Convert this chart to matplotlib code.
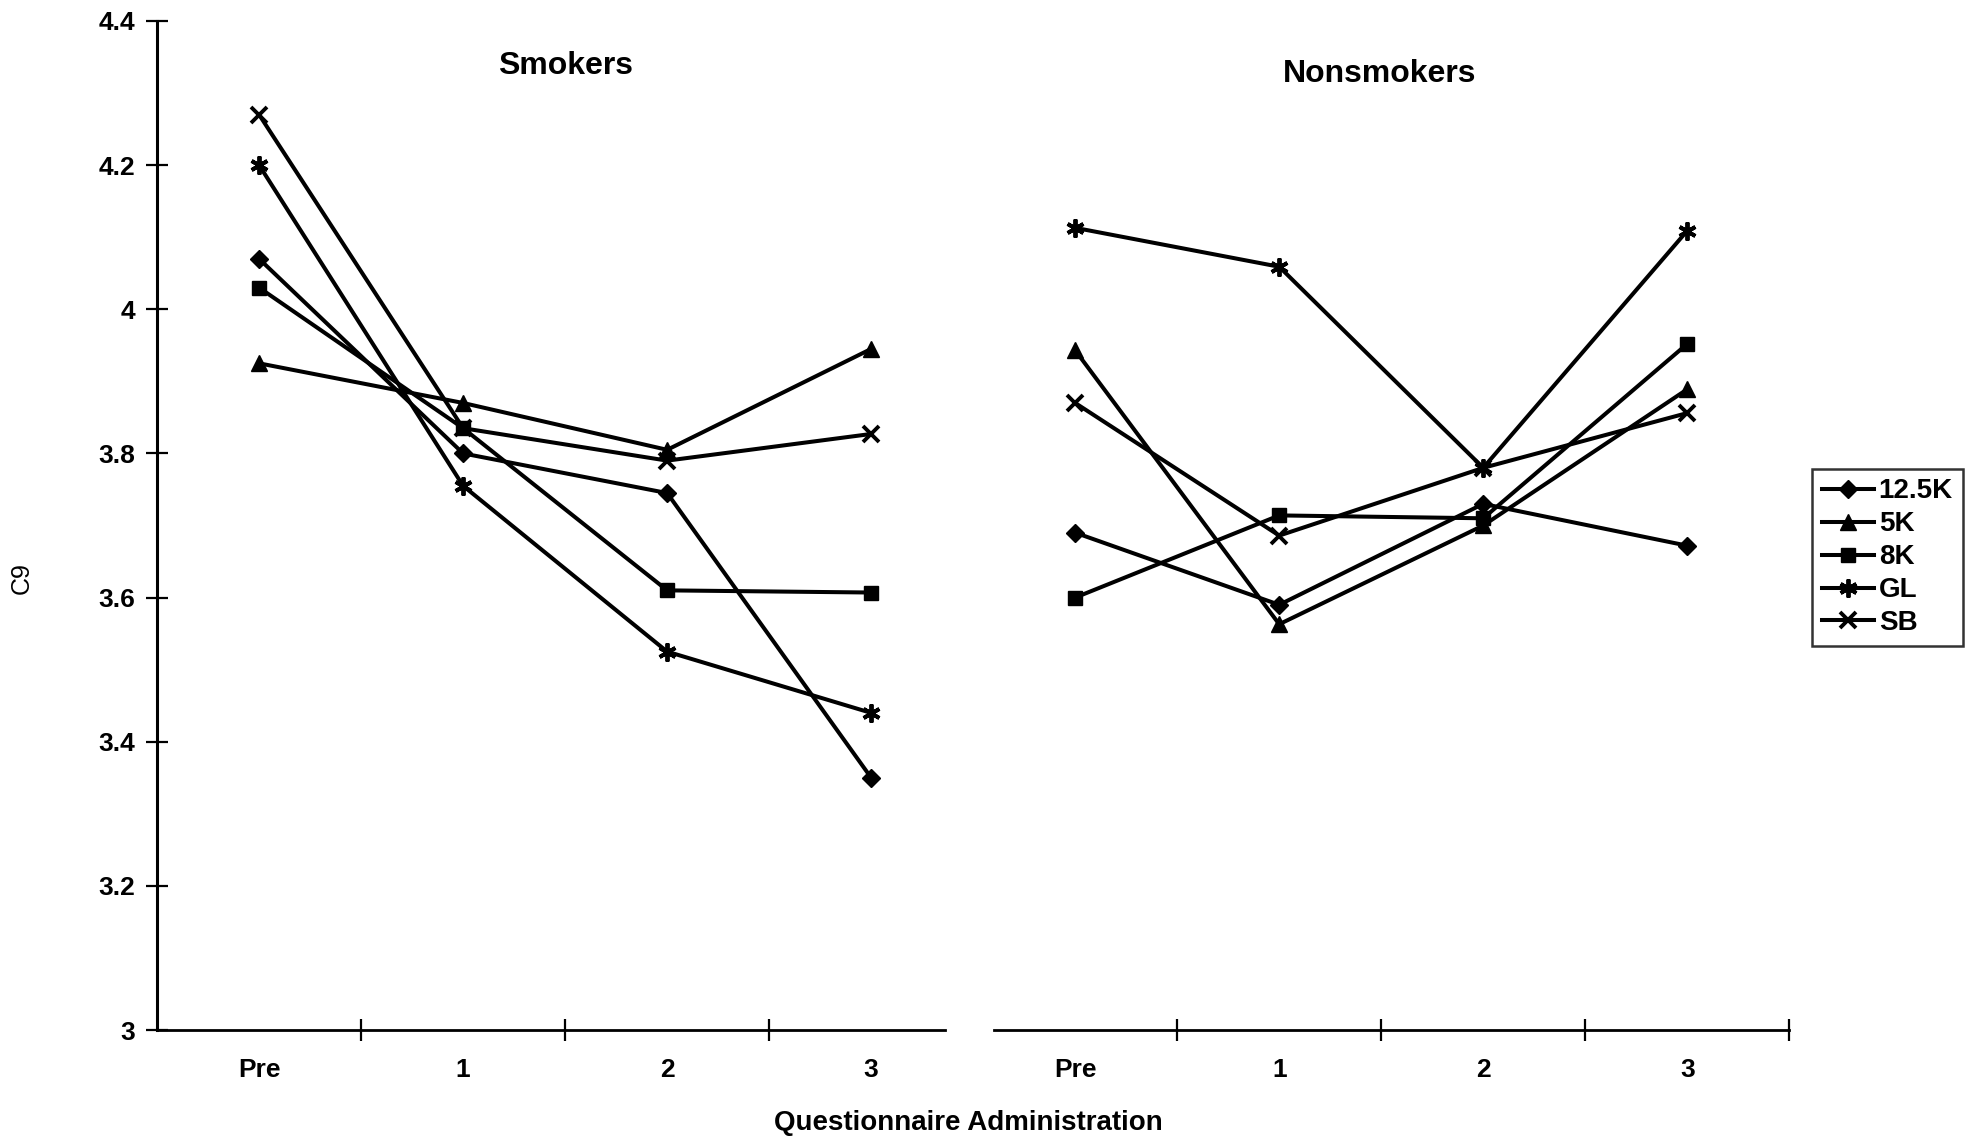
import matplotlib
matplotlib.use("Agg")
import matplotlib.pyplot as plt
from matplotlib.ticker import FixedLocator, FuncFormatter

plt.rcParams['font.family'] = ['Liberation Sans', 'DejaVu Sans']

# Category labels for each group
occasions = ["Pre", "1", "2", "3"]
groups = ["Smokers", "Nonsmokers"]
series_names = ["12.5K", "5K", "8K", "GL", "SB"]

# Mean C9 scores, smokers
smokers_125k = [4.07, 3.80, 3.745, 3.35]
smokers_5k = [3.925, 3.87, 3.805, 3.945]
smokers_8k = [4.03, 3.835, 3.61, 3.607]
smokers_gl = [4.20, 3.755, 3.525, 3.44]
smokers_sb = [4.27, 3.835, 3.79, 3.827]

# Mean C9 scores, nonsmokers
nonsmokers_125k = [3.69, 3.59, 3.73, 3.672]
nonsmokers_5k = [3.943, 3.563, 3.70, 3.889]
nonsmokers_8k = [3.60, 3.714, 3.71, 3.952]
nonsmokers_gl = [4.113, 4.059, 3.78, 4.109]
nonsmokers_sb = [3.87, 3.686, 3.78, 3.856]

yticks = [3.0, 3.2, 3.4, 3.6, 3.8, 4.0, 4.2, 4.4]

smokers = [smokers_125k, smokers_5k, smokers_8k, smokers_gl, smokers_sb]
nonsmokers = [nonsmokers_125k, nonsmokers_5k, nonsmokers_8k, nonsmokers_gl, nonsmokers_sb]

styles = {
    "12.5K": dict(marker="D", ms=9),
    "5K": dict(marker="^", ms=11),
    "8K": dict(marker="s", ms=10),
    "GL": dict(marker=(6, 2, 0), ms=13, mew=2.8),
    "SB": dict(marker="x", ms=11, mew=2.8),
}

fig = plt.figure(figsize=(19.76, 11.46), dpi=100)
ax = fig.add_axes([0.0795, 0.1012, 0.826, 0.8805])

n = len(occasions)
left_x = [i + 0.5 for i in range(n)]
right_x = [n + i + 0.5 for i in range(n)]

handles = []
for name, sv, nv in zip(series_names, smokers, nonsmokers):
    st = styles[name]
    h, = ax.plot(left_x, sv, color="black", lw=2.9, mfc="black", mec="black",
                 clip_on=False, label=name, **st)
    ax.plot(right_x, nv, color="black", lw=2.9, mfc="black", mec="black",
            clip_on=False, **st)
    handles.append(h)

ax.set_xlim(0, 2 * n)
ax.set_ylim(3.0, 4.4)

# Axes frame: only the value axis on the left plus a broken category axis
for s in ["top", "right", "bottom"]:
    ax.spines[s].set_visible(False)
ax.spines["left"].set_linewidth(2.2)
ax.plot([0, 3.86], [3.0, 3.0], color="black", lw=2.0, clip_on=False)
ax.plot([4.1, 2 * n], [3.0, 3.0], color="black", lw=2.0, clip_on=False)

ax.yaxis.set_major_locator(FixedLocator(yticks))
ax.yaxis.set_major_formatter(FuncFormatter(lambda v, p: f"{v:g}"))
ax.tick_params(axis="y", direction="inout", length=16, width=1.6, pad=8,
               labelsize=19)
for lab in ax.get_yticklabels():
    lab.set_fontweight("bold")

ax.xaxis.set_major_locator(FixedLocator([1, 2, 3, 5, 6, 7, 8]))
ax.xaxis.set_minor_locator(FixedLocator(left_x + right_x))
ax.xaxis.set_major_formatter(FuncFormatter(lambda v, p: ""))
ax.set_xticklabels(occasions + occasions, minor=True)
ax.tick_params(axis="x", which="major", direction="inout", length=16, width=1.6)
ax.tick_params(axis="x", which="minor", length=0, pad=20, labelsize=19)
for lab in ax.get_xticklabels(minor=True):
    lab.set_fontweight("bold")

ax.text(2.0, 4.337, groups[0], ha="center", va="center", fontsize=23,
        fontweight="bold")
ax.text(5.99, 4.326, groups[1], ha="center", va="center", fontsize=23,
        fontweight="bold")

fig.text(0.49, 0.02, "Questionnaire Administration", ha="center", va="center",
         fontsize=20, fontweight="bold")
fig.text(0.011, 0.496, "C9", ha="center", va="center", rotation=90,
         fontsize=18)

leg = fig.legend(handles=handles, loc="upper left",
                 bbox_to_anchor=(0.917, 0.591), borderaxespad=0,
                 frameon=True, fancybox=False, edgecolor="black",
                 handlelength=1.9, handletextpad=0.15, labelspacing=0.25,
                 borderpad=0.35, prop=dict(size=20, weight="bold"))
leg.get_frame().set_linewidth(1.8)

fig.savefig("out.png", dpi=100, facecolor="white")
